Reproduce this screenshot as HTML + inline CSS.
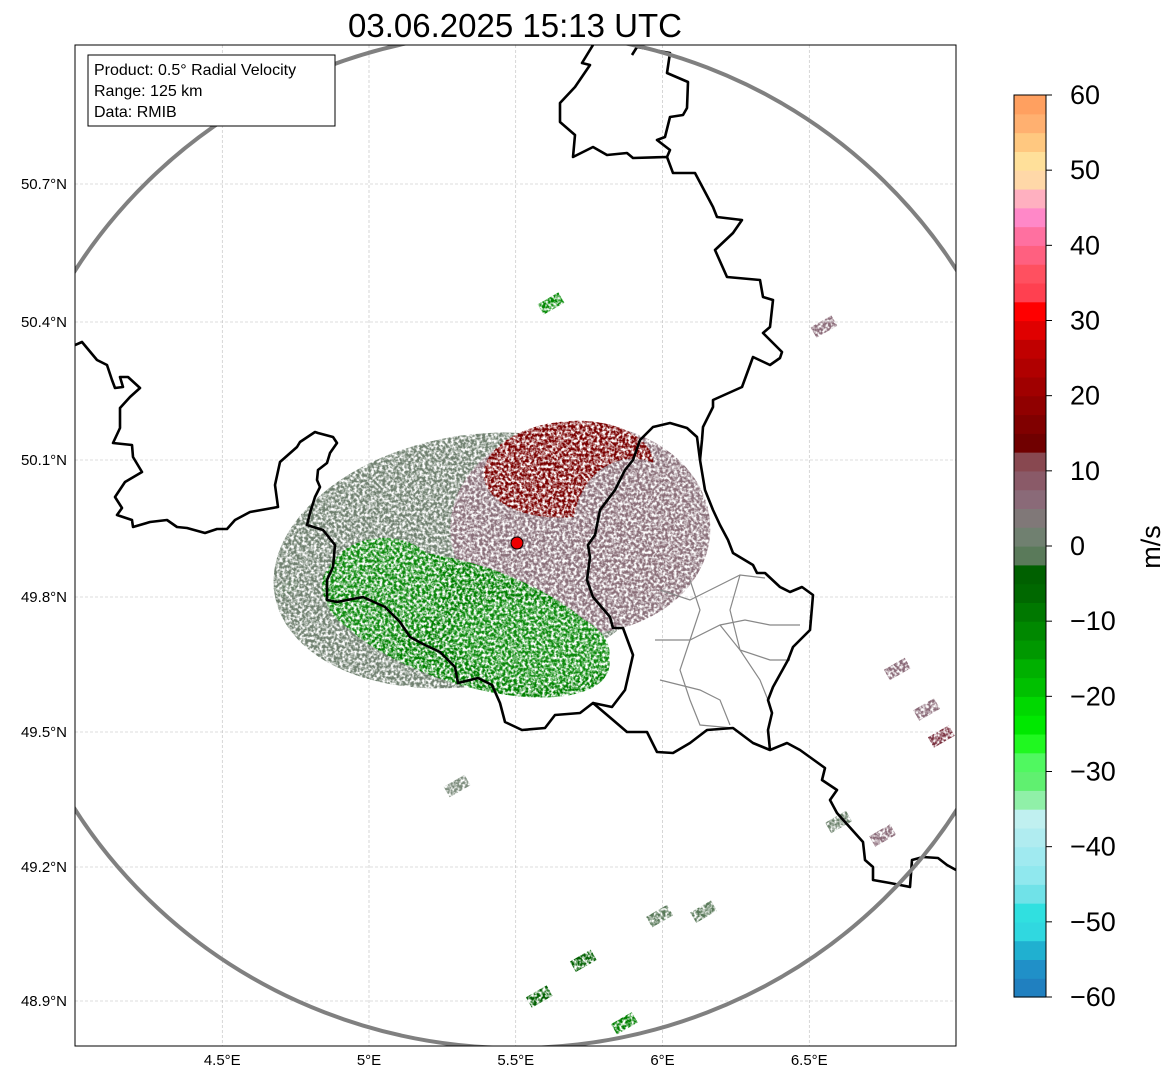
<!DOCTYPE html>
<html><head><meta charset="utf-8"><style>
body{margin:0;background:#fff;font-family:"Liberation Sans",sans-serif}
svg text{font-family:"Liberation Sans","DejaVu Sans",sans-serif}
</style></head><body>
<svg id="s" width="1171" height="1081" viewBox="0 0 1171 1081" xmlns="http://www.w3.org/2000/svg">
<defs>
<clipPath id="clip"><rect x="75" y="45" width="881" height="1001"/></clipPath>
<filter id="speck" x="-10%" y="-10%" width="120%" height="120%">
<feTurbulence type="fractalNoise" baseFrequency="0.35" numOctaves="2" seed="3" result="n"/>
<feColorMatrix in="n" type="matrix" values="0 0 0 0 0 0 0 0 0 0 0 0 0 0 0 0 0 0 -3 2.1" result="m"/>
<feComposite in="SourceGraphic" in2="m" operator="in"/>
</filter>
</defs>
<text x="515" y="37" font-size="33" text-anchor="middle">03.06.2025 15:13 UTC</text>
<g id="grid"></g>
<g clip-path="url(#clip)">
<g id="echo" filter="url(#speck)"></g>
<g id="borders" fill="none"></g>
<ellipse cx="516" cy="540" rx="520" ry="508" fill="none" stroke="#808080" stroke-width="4"/>
</g>
<circle cx="517" cy="543" r="6" fill="#ee0000" stroke="#000" stroke-width="1"/>
<rect x="75" y="45" width="881" height="1001" fill="none" stroke="#000" stroke-width="1"/>
<g id="ticks"></g>
<g>
<rect x="88" y="55" width="247" height="71" fill="#fff" stroke="#000" stroke-width="1"/>
<text x="94" y="75" font-size="16">Product: 0.5° Radial Velocity</text>
<text x="94" y="96" font-size="16">Range: 125 km</text>
<text x="94" y="117" font-size="16">Data: RMIB</text>
</g>
<g id="cbar"></g>
<text transform="translate(1160,547) rotate(-90)" font-size="27" text-anchor="middle">m/s</text>
</svg>
<script>
const lonTicks=[4.5,5,5.5,6,6.5];
const lonLabels=["4.5°E","5°E","5.5°E","6°E","6.5°E"];
const latTicks=[48.9,49.2,49.5,49.8,50.1,50.4,50.7];
const latLabels=["48.9°N","49.2°N","49.5°N","49.8°N","50.1°N","50.4°N","50.7°N"];
const cbTicks=[-60,-50,-40,-30,-20,-10,0,10,20,30,40,50,60];
const cbLabels=["−60","−50","−40","−30","−20","−10","0","10","20","30","40","50","60"];
const cbColors=["#2080c0","#2090c8","#20b0d0","#30d8e0","#30e0e0","#70e2e8","#90e8ee","#a0eaf0","#b0ecf0","#c0f0f0","#90f0a8","#60f070","#50f860","#20f820","#00e800","#00d800","#00c000","#00b000","#009800","#008800","#007800","#006800","#006000","#5a7a5a","#708070","#807878","#8a6a78","#8a5a68","#884850","#700000","#800000","#900000","#a00000","#b00000","#c00000","#e00000","#ff0000","#ff4050","#ff5060","#ff6080","#ff70a0","#ff88c8","#ffb0c0","#ffd8a8","#ffe09a","#ffc880","#ffb070","#ffa060"];
const echoLon=[5.35,5.72,5.68,5.33,5.05,5.55,5.9];
const echoLat=[49.88,49.95,50.08,49.74,49.82,49.7,49.95];
const echoRx=[200,130,85,150,60,80,60];
const echoRy=[125,105,48,60,50,40,70];
const echoRot=[-10,0,-5,18,0,10,0];
const echoCol=["#6f806f","#8a707a","#7a0000","#008000","#118a11","#0a8a0a","#8a6e78"];
const patchLon=[5.99,6.14,5.73,5.58,5.87,6.6,6.75,6.8,6.9,6.95,5.3,5.62,6.55,4.72];
const patchLat=[49.09,49.1,48.99,48.91,48.85,49.3,49.27,49.64,49.55,49.49,49.38,50.44,50.39,49.82];
const patchCol=["#5a7a5a","#5a7a5a","#006000","#006000","#008000","#6a806a","#8a6a78","#8a6a78","#8a6a78","#7a3040","#7a8a7a","#008800","#8a6a78","#6a806a"];
const latPix=[1001,867,732,597,460,322,184];
function lonX(l){return 369+(l-5)*293.5;}
function latY(l){let i=0;while(i<latTicks.length-2&&l>latTicks[i+1])i++;return latPix[i]+(l-latTicks[i])/(latTicks[i+1]-latTicks[i])*(latPix[i+1]-latPix[i]);}
const NS="http://www.w3.org/2000/svg";
function mk(t,a,p){const e=document.createElementNS(NS,t);for(const k in a)e.setAttribute(k,a[k]);p.appendChild(e);return e;}
const grid=document.getElementById('grid'),ticks=document.getElementById('ticks');
lonTicks.forEach((l,i)=>{const x=lonX(l);
const g=mk('line',{x1:x,x2:x,y1:45,y2:1046,stroke:'#bbb','stroke-width':0.6,'stroke-dasharray':'3,2'},grid);


const t=mk('text',{x:x,y:1065,'font-size':15,'text-anchor':'middle'},ticks);t.textContent=lonLabels[i];

});
latTicks.forEach((l,i)=>{const y=latY(l);
const g=mk('line',{x1:75,x2:956,y1:y,y2:y,stroke:'#bbb','stroke-width':0.6,'stroke-dasharray':'3,2'},grid);


const t=mk('text',{x:67,y:y+5,'font-size':15,'text-anchor':'end'},ticks);t.textContent=latLabels[i];

});
const echo=document.getElementById('echo');
echoLon.forEach((l,i)=>{const x=lonX(l),y=latY(echoLat[i]);
const e=mk('ellipse',{cx:x,cy:y,rx:echoRx[i],ry:echoRy[i],fill:echoCol[i],transform:`rotate(${echoRot[i]} ${x} ${y})`},echo);

});
patchLon.forEach((l,i)=>{const x=lonX(l),y=latY(patchLat[i]);
const e=mk('rect',{x:x-12,y:y-6,width:24,height:12,fill:patchCol[i],transform:`rotate(-30 ${x} ${y})`},echo);

});
const B=document.getElementById('borders');
const black=[
"75,345 82,342 97,360 107,365 112,380 115,388 123,387 120,377 128,377 140,388 130,397 120,408 120,428 113,443 132,445 133,457 142,472 125,482 115,497 122,508 117,515 132,520 133,527 150,522 167,520 177,527 187,528 205,533 217,529 227,529 235,520 250,512 278,507 275,485 280,462 297,447 300,442 315,432 318,433 333,437 337,443 330,453 327,463 318,470 317,480 320,487 315,497 310,513 307,525 323,530 335,545 333,567 327,580 327,600 337,602 363,597 385,607 400,622 410,637 425,645 440,652 455,667 458,683 478,678 492,685 500,703 505,722 522,730 545,728 555,715 580,713 593,703 613,720 627,732 647,732 657,752 673,753 690,743 707,730 733,728 753,743 770,750 787,743 800,750 825,768 822,780 837,790 830,800 837,813 863,842 865,860 873,867 873,880 890,883 910,887 912,860 923,857 938,858 947,865 956,870",
"593,45 582,63 590,65 575,87 560,103 560,122 575,135 573,157 593,147 607,155 627,153 633,158 667,157 673,173 695,173 713,207 717,217 742,220 733,233 715,250 727,277 760,280 763,297 773,300 770,327 763,333 782,352 780,358 770,365 753,357 742,387 713,400 713,407 703,427 702,440 700,460 705,490 713,510 720,525 728,540 733,553 753,565 757,573 765,573 780,587 790,592 802,587 813,595 812,607 810,630 793,647 788,660 773,687 768,700 772,713 768,730 770,750",
"632,55 637,47 670,53 667,73 688,82 687,108 683,115 670,117 665,137 657,140 670,150 667,157",
"700,460 697,437 687,428 670,423 653,427 640,440 633,460 625,470 615,490 600,510 595,535 588,545 590,557 587,580 593,597 610,617 613,628 623,628 633,655 625,690 612,707 593,703"];
const gray=["660,590 690,600 720,585 740,575 765,578","655,640 690,640 720,625 745,620 770,625 800,625","690,580 700,610 690,640 680,670 690,700 700,725 733,728","740,575 730,610 740,650 760,680 768,700","660,680 700,690 720,700 730,725","720,625 740,650 770,660 790,660"];
gray.forEach(p=>{const e=mk('polyline',{points:p,stroke:'#888','stroke-width':1.2},B);

});
black.forEach(p=>{const e=mk('polyline',{points:p,stroke:'#000','stroke-width':2.6,'stroke-linejoin':'round'},B);

});
const cb=document.getElementById('cbar');const cbTop=95,cbBot=997,cbH=(cbBot-cbTop)/cbColors.length;
cbColors.forEach((c,i)=>{const r=mk('rect',{x:1014,y:cbBot-(i+1)*cbH,width:32,height:cbH+0.6,fill:c},cb);

});
mk('rect',{x:1014,y:cbTop,width:32,height:cbBot-cbTop,fill:'none',stroke:'#000','stroke-width':1},cb);
cbTicks.forEach((v,i)=>{const y=cbBot-(v+60)/120*(cbBot-cbTop);
mk('line',{x1:1046,x2:1052,y1:y,y2:y,stroke:'#000'},cb);
const t=mk('text',{x:1070,y:y+9,'font-size':27},cb);t.textContent=cbLabels[i];

});
</script>
</body></html>
